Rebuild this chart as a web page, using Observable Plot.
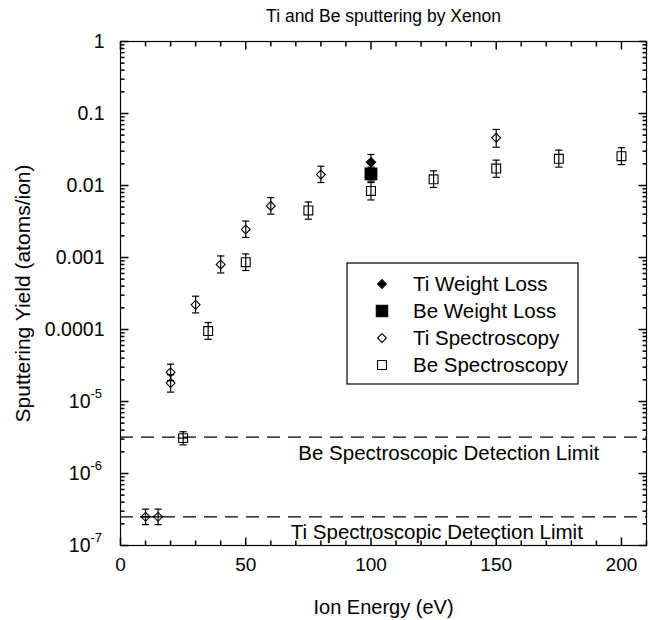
<!DOCTYPE html>
<html>
<head>
<meta charset="utf-8">
<script src="https://cdn.jsdelivr.net/npm/d3@7"></script>
<script src="https://cdn.jsdelivr.net/npm/@observablehq/plot@0.6"></script>
<style>
  html, body { margin: 0; padding: 0; background: #fff; }
  #chart { width: 655px; height: 620px; }
</style>
</head>
<body>
<div id="chart"></div>
<script>
// ---------- data ----------
const titleText = "Ti and Be sputtering by Xenon";
const xLabel = "Ion Energy (eV)";
const yLabel = "Sputtering Yield (atoms/ion)";

const tiSpecX  = [10, 15, 20, 20, 30, 40, 50, 60, 80, 150];
const tiSpecY  = [2.5e-7, 2.5e-7, 2.55e-5, 1.8e-5, 2.2e-4, 8.0e-4, 2.45e-3, 5.2e-3, 1.42e-2, 4.6e-2];
const tiSpecLo = [1.95e-7, 1.95e-7, 1.95e-5, 1.35e-5, 1.7e-4, 6.1e-4, 1.9e-3, 4.0e-3, 1.1e-2, 3.4e-2];
const tiSpecHi = [3.2e-7, 3.2e-7, 3.3e-5, 2.35e-5, 2.9e-4, 1.05e-3, 3.2e-3, 6.8e-3, 1.85e-2, 6.0e-2];
const tiSpecXErr = [2, 2, 0, 0, 0, 0, 0, 0, 0, 0];

const beSpecX  = [25, 35, 50, 75, 100, 125, 150, 175, 200];
const beSpecY  = [3.1e-6, 9.5e-5, 8.6e-4, 4.5e-3, 8.4e-3, 1.22e-2, 1.72e-2, 2.35e-2, 2.55e-2];
const beSpecLo = [2.5e-6, 7.3e-5, 6.6e-4, 3.4e-3, 6.3e-3, 9.4e-3, 1.3e-2, 1.8e-2, 1.95e-2];
const beSpecHi = [3.8e-6, 1.25e-4, 1.12e-3, 5.9e-3, 1.1e-2, 1.6e-2, 2.25e-2, 3.1e-2, 3.35e-2];
const beSpecXErr = [2, 0, 0, 0, 0, 0, 0, 0, 0];

const tiWLX = [100], tiWLY = [0.021], tiWLLo = [0.016], tiWLHi = [0.027];
const beWLX = [100], beWLY = [0.0145], beWLLo = [0.0115], beWLHi = [0.018];

const limitNames  = ["Be Spectroscopic Detection Limit", "Ti Spectroscopic Detection Limit"];
const limitValues = [3.2e-6, 2.5e-7];

const legendNames = ["Ti Weight Loss", "Be Weight Loss", "Ti Spectroscopy", "Be Spectroscopy"];

const xTickLabels = [0, 50, 100, 150, 200];
const xMinorTicks = [10,20,30,40,60,70,80,90,110,120,130,140,160,170,180,190,210];
const yDecades = [1, 0.1, 0.01, 0.001, 0.0001, 1e-5, 1e-6, 1e-7];
const yPlainLabels = ["1", "0.1", "0.01", "0.001", "0.0001"];
const yExpLabels = [[1e-5, "-5"], [1e-6, "-6"], [1e-7, "-7"]];

// ---------- build tables ----------
const mk = (X, Y, Lo, Hi, XE) => X.map((x, i) => ({x, y: Y[i], lo: Lo[i], hi: Hi[i], xe: XE ? XE[i] : 0}));
const tiSpec = mk(tiSpecX, tiSpecY, tiSpecLo, tiSpecHi, tiSpecXErr);
const beSpec = mk(beSpecX, beSpecY, beSpecLo, beSpecHi, beSpecXErr);
const tiWL = mk(tiWLX, tiWLY, tiWLLo, tiWLHi);
const beWL = mk(beWLX, beWLY, beWLLo, beWLHi);
const limits = limitNames.map((n, i) => ({name: n, y: limitValues[i]}));
const yPlain = yPlainLabels.map((t, i) => ({v: yDecades[i], t}));
const yMinor = [];
for (let e = -7; e < 0; e++) for (let m = 2; m <= 9; m++) yMinor.push(m * Math.pow(10, e));

// ---------- custom symbols ----------
const L = size => Math.sqrt(size / Math.PI);
const tickUp    = {draw(c, s){ c.moveTo(0, 0); c.lineTo(0, -L(s)); }};
const tickDown  = {draw(c, s){ c.moveTo(0, 0); c.lineTo(0,  L(s)); }};
const tickRight = {draw(c, s){ c.moveTo(0, 0); c.lineTo( L(s), 0); }};
const tickLeft  = {draw(c, s){ c.moveTo(0, 0); c.lineTo(-L(s), 0); }};
const cap       = {draw(c, s){ const l = L(s); c.moveTo(-l, 0); c.lineTo(l, 0); }};

const FONT = "'Liberation Sans', Arial, Helvetica, sans-serif";

// legend as a custom SVG mark
function legendMark(index, scales, values, dim) {
  const g = d3.create("svg:g").attr("text-anchor", "start");
  const bx = 347, by = 263, bw = 231, bh = 121;
  g.append("rect").attr("x", bx).attr("y", by).attr("width", bw).attr("height", bh)
    .attr("fill", "white").attr("stroke", "black").attr("stroke-width", 1.2);
  const rows = [
    {sym: d3.symbolDiamond2, size: 50, fill: "black"},
    {sym: d3.symbolSquare, size: 130, fill: "black"},
    {sym: d3.symbolDiamond2, size: 50, fill: "none"},
    {sym: d3.symbolSquare, size: 80, fill: "none"}
  ];
  rows.forEach((r, i) => {
    const cy = by + 21 + i * 27;
    g.append("path").attr("d", d3.symbol(r.sym, r.size)())
      .attr("transform", `translate(${bx + 35},${cy})`)
      .attr("fill", r.fill).attr("stroke", "black").attr("stroke-width", 1.1);
    g.append("text").attr("x", bx + 66).attr("y", cy).attr("dy", "0.35em")
      .attr("text-anchor", "start")
      .attr("font-size", 20.5).attr("font-family", FONT).attr("fill", "black")
      .text(legendNames[i]);
  });
  return g.node();
}

const errMarks = (data) => [
  Plot.ruleX(data, {x: "x", y1: "lo", y2: "hi", stroke: "black", strokeWidth: 1.2}),
  Plot.dot(data, {x: "x", y: "lo", symbol: cap, r: 3.6, stroke: "black", strokeWidth: 1.2}),
  Plot.dot(data, {x: "x", y: "hi", symbol: cap, r: 3.6, stroke: "black", strokeWidth: 1.2}),
  Plot.ruleY(data.filter(d => d.xe > 0), {y: "y", x1: d => d.x - d.xe, x2: d => d.x + d.xe, stroke: "black", strokeWidth: 1.2})
];

const chart = Plot.plot({
  width: 655,
  height: 620,
  marginTop: 41,
  marginBottom: 75,
  marginLeft: 120,
  marginRight: 9,
  style: {fontFamily: FONT, fontSize: "19px", color: "black", background: "white"},
  x: {domain: [0, 210], axis: null},
  y: {type: "log", domain: [1e-7, 1], axis: null},
  marks: [
    // detection limits
    Plot.ruleY(limits, {y: "y", stroke: "black", strokeWidth: 1.1, strokeDasharray: "13,8"}),
    Plot.text(limits.slice(0, 1), {y: "y", x: () => 71, text: "name", textAnchor: "start", dy: 16, fontSize: 20.5}),
    Plot.text(limits.slice(1), {y: "y", x: () => 68, text: "name", textAnchor: "start", dy: 16, fontSize: 20.5}),
    // error bars
    ...errMarks(tiSpec), ...errMarks(beSpec), ...errMarks(tiWL), ...errMarks(beWL),
    // markers
    Plot.dot(beSpec, {x: "x", y: "y", symbol: "square", r: 5, fill: "none", stroke: "black", strokeWidth: 1.1}),
    Plot.dot(tiSpec, {x: "x", y: "y", symbol: "diamond2", r: 4, fill: "none", stroke: "black", strokeWidth: 1.1}),
    Plot.dot(beWL, {x: "x", y: "y", symbol: "square", r: 6.4, fill: "black", stroke: "black"}),
    Plot.dot(tiWL, {x: "x", y: "y", symbol: "diamond2", r: 4, fill: "black", stroke: "black"}),
    // frame
    Plot.frame({stroke: "black", strokeWidth: 1.2}),
    // inward ticks: x
    Plot.dot(xTickLabels, {x: d => d, frameAnchor: "bottom", symbol: tickUp, r: 8, stroke: "black"}),
    Plot.dot(xMinorTicks, {x: d => d, frameAnchor: "bottom", symbol: tickUp, r: 5, stroke: "black"}),
    Plot.dot(xTickLabels, {x: d => d, frameAnchor: "top", symbol: tickDown, r: 8, stroke: "black"}),
    Plot.dot(xMinorTicks, {x: d => d, frameAnchor: "top", symbol: tickDown, r: 5, stroke: "black"}),
    // inward ticks: y
    Plot.dot(yDecades, {y: d => d, frameAnchor: "left", symbol: tickRight, r: 8, stroke: "black"}),
    Plot.dot(yMinor, {y: d => d, frameAnchor: "left", symbol: tickRight, r: 4, stroke: "black"}),
    Plot.dot(yDecades, {y: d => d, frameAnchor: "right", symbol: tickLeft, r: 8, stroke: "black"}),
    Plot.dot(yMinor, {y: d => d, frameAnchor: "right", symbol: tickLeft, r: 4, stroke: "black"}),
    // tick labels
    Plot.axisX(xTickLabels, {tickSize: 0, tickPadding: 12, label: null, fontSize: 19}),
    Plot.text(yPlain, {y: "v", text: "t", frameAnchor: "left", textAnchor: "end", dx: -16, fontSize: 19.5}),
    Plot.text(yExpLabels, {y: d => d[0], text: () => "10", frameAnchor: "left", textAnchor: "end", dx: -30, fontSize: 19.5}),
    Plot.text(yExpLabels, {y: d => d[0], text: d => d[1], frameAnchor: "left", textAnchor: "start", dx: -30, dy: -8, fontSize: 13}),
    // axis titles & title
    Plot.text([xLabel], {frameAnchor: "bottom", lineAnchor: "middle", dy: 62, fontSize: 20}),
    Plot.text([yLabel], {frameAnchor: "left", textAnchor: "middle", lineAnchor: "middle", rotate: -90, dx: -97, fontSize: 21}),
    Plot.text([titleText], {frameAnchor: "top", lineAnchor: "middle", dy: -25, fontSize: 17.5}),
    // legend
    legendMark
  ]
});
document.getElementById("chart").appendChild(chart);
</script>
</body>
</html>
